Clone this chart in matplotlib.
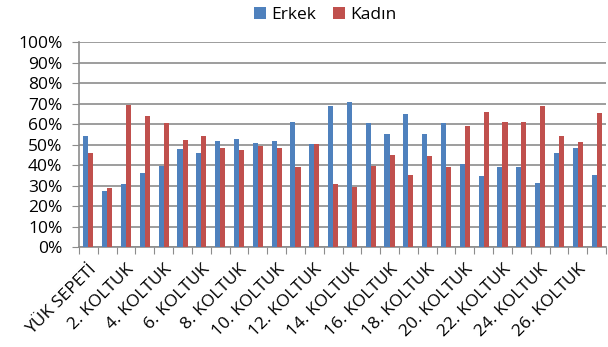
import matplotlib
matplotlib.use("Agg")
import matplotlib.pyplot as plt
import numpy as np
from matplotlib.ticker import PercentFormatter

categories = ["YÜK SEPETİ"] + [f"{i}. KOLTUK" for i in range(1, 28)]
erkek = [54.2, 27.6, 30.7, 36.4, 39.4, 47.7, 45.8, 51.8, 52.6, 50.6, 51.8, 60.9, 50.2, 69.0,
         70.8, 60.4, 55.2, 64.9, 55.4, 60.7, 40.7, 34.6, 39.0, 39.0, 31.2, 45.9, 48.5, 35.1]
kadin = [45.8, 28.9, 69.3, 63.8, 60.4, 52.3, 54.1, 48.2, 47.4, 49.2, 48.2, 39.3, 50.2, 30.8,
         29.4, 39.8, 44.8, 35.1, 44.6, 39.3, 59.3, 65.7, 61.2, 61.2, 68.8, 54.2, 51.5, 65.3]
yticks = list(range(0, 101, 10))

plt.rcParams['font.family'] = ['Open Sans', 'DejaVu Sans']

fig = plt.figure(figsize=(6.08, 3.47), dpi=100)
ax = fig.add_axes([79/608, 1 - 247.3/347, (606 - 79)/608, (247.3 - 42)/347])

x = np.arange(len(categories))
w = 0.27
ax.bar(x - w/2, erkek, width=w, color="#4F81BD", label="Erkek", zorder=3)
ax.bar(x + w/2, kadin, width=w, color="#C0504D", label="Kadın", zorder=3)

ax.set_xlim(-0.5, len(categories) - 0.5)
ax.set_ylim(0, 100)
ax.set_yticks(yticks)
ax.yaxis.set_major_formatter(PercentFormatter(decimals=0))
ax.grid(axis='y', color='#8c8c8c', lw=1.2, zorder=0)
ax.tick_params(axis='y', length=5, color='#8c8c8c', labelsize=12.5, pad=7)

ax.set_xticks(np.arange(len(categories) + 1) - 0.5, minor=False)
ax.set_xticklabels([])
ax.tick_params(axis='x', which='major', length=5, color='#8c8c8c')
ax.set_xticks(x[::2], minor=True)
ax.set_xticklabels(categories[::2], minor=True, rotation=45, ha='right',
                   rotation_mode='anchor', fontsize=12.5)
ax.tick_params(axis='x', which='minor', length=0, pad=10)

for s in ['top', 'right']:
    ax.spines[s].set_visible(False)
for s in ['left', 'bottom']:
    ax.spines[s].set_color('#8c8c8c')
    ax.spines[s].set_linewidth(1.2)

fig.legend(loc='upper center', bbox_to_anchor=(0.535, 1.025), ncol=2, frameon=False,
           fontsize=12.5, handlelength=0.7, handleheight=0.7, handletextpad=0.3,
           columnspacing=1.0)

fig.savefig("out.png", dpi=100)
